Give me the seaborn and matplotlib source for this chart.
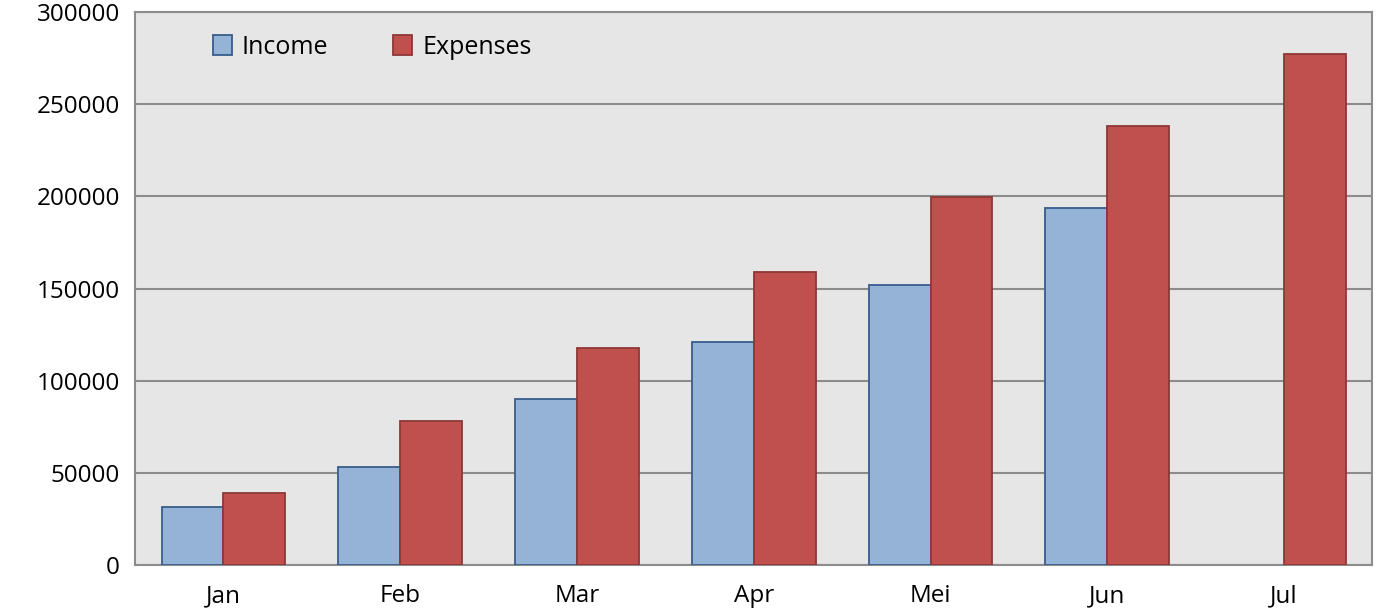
import numpy as np
import pandas as pd
import matplotlib.pyplot as plt
import seaborn as sns

# data
months = ["Jan", "Feb", "Mar", "Apr", "Mei", "Jun", "Jul"]
income = [31500, 53000, 90000, 121000, 152000, 193500, np.nan]
expenses = [39000, 78000, 118000, 159000, 199500, 238000, 277500]

df = pd.DataFrame({
    "Month": months * 2,
    "Value": income + expenses,
    "Series": ["Income"] * len(months) + ["Expenses"] * len(months),
})

sns.set_style("white")
plt.rcParams["font.family"] = ["Open Sans", "DejaVu Sans"]

fig = plt.figure(figsize=(13.78, 6.12), dpi=100)
ax = fig.add_axes([0.098, 0.077, 0.898, 0.903])

palette = {"Income": "#95B3D7", "Expenses": "#C0504D"}
sns.barplot(data=df, x="Month", y="Value", hue="Series", palette=palette,
            width=0.7, ax=ax, saturation=1, zorder=3)

# bar edges
for container, edge in zip(ax.containers, ["#385D8A", "#8C3836"]):
    for bar in container:
        bar.set_edgecolor(edge)
        bar.set_linewidth(1.3)

ax.set_facecolor("#E6E6E6")
ax.set_ylim(0, 300000)
ax.set_xlim(-0.5, 6.5)
ax.set_yticks(range(0, 300001, 50000))
ax.yaxis.grid(True, color="#8C8C8C", linewidth=1.5, zorder=0)
ax.set_axisbelow(True)
for side in ["left", "right", "top", "bottom"]:
    ax.spines[side].set_color("#8C8C8C")
    ax.spines[side].set_linewidth(1.5)
ax.set_xlabel("")
ax.set_ylabel("")
ax.tick_params(axis="both", length=0, labelsize=17.5, colors="#000000")
ax.tick_params(axis="y", pad=11)
ax.tick_params(axis="x", pad=14)

handles, labels = ax.get_legend_handles_labels()
for h in handles:
    h.set_linewidth(1.3)
handles[0].set_edgecolor("#385D8A")
handles[1].set_edgecolor("#8C3836")
ax.legend(handles, labels, loc="upper left", ncol=2, frameon=False,
          fontsize=18, bbox_to_anchor=(0.045, 1.0), handlelength=0.75,
          handleheight=0.85, handletextpad=0.4, columnspacing=2.6,
          labelcolor="#000000")

fig.savefig("out.png", dpi=100)
